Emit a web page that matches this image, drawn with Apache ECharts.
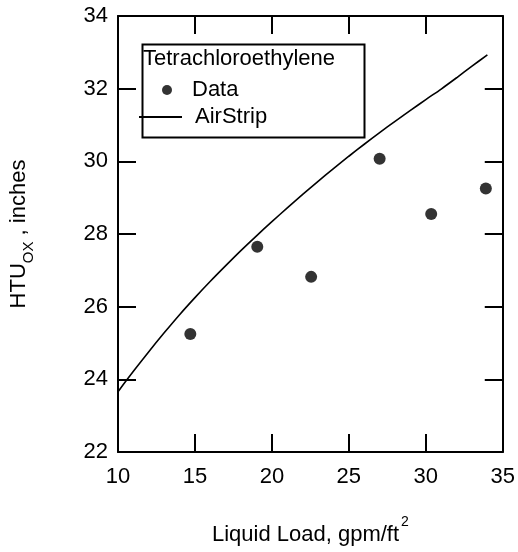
<!DOCTYPE html>
<html>
<head>
<meta charset="utf-8">
<script src="https://cdn.jsdelivr.net/npm/echarts@6/dist/echarts.min.js"></script>
<style>
html,body{margin:0;padding:0;background:#fff;}
#chart{width:518px;height:552px;}
</style>
</head>
<body>
<div id="chart"></div>
<script>
// Measured data (Liquid Load gpm/ft^2, HTU_OX inches)
var dataX = [14.7, 19.05, 22.55, 27.0, 30.35, 33.9];
var dataY = [25.25, 27.65, 26.82, 30.07, 28.55, 29.25];

// AirStrip model curve
var lineX = [10, 11, 12, 13, 14, 15, 16, 17, 18, 19, 20, 21, 22, 23, 24, 25, 26, 27, 28, 29, 30, 31, 32, 33, 34];
var lineY = [23.66, 24.22, 24.76, 25.28, 25.78, 26.25, 26.70, 27.13, 27.55, 27.95, 28.34, 28.72, 29.09, 29.45, 29.80, 30.14, 30.47, 30.79, 31.10, 31.40, 31.70, 31.99, 32.30, 32.62, 32.93];

var xTicks = {min: 10, max: 35, interval: 5};
var yTicks = {min: 22, max: 34, interval: 2};

var legendTitle = 'Tetrachloroethylene';
var seriesNames = ['Data', 'AirStrip'];

var FONT = '"Liberation Sans", Arial, sans-serif';
var black = '#000';

function pairs(xs, ys) { return xs.map(function (x, i) { return [x, ys[i]]; }); }

var axisLine = {show: true, onZero: false, lineStyle: {color: black, width: 2}};
var axisTick = {show: true, inside: true, length: 18, lineStyle: {color: black, width: 2}};

var chart = echarts.init(document.getElementById('chart'), null, {renderer: 'canvas'});
chart.setOption({
  backgroundColor: '#fff',
  animation: false,
  grid: {left: 118, right: 14, top: 16, bottom: 100, containLabel: false},
  xAxis: [{
    type: 'value', position: 'bottom', min: xTicks.min, max: xTicks.max, interval: xTicks.interval,
    axisLine: axisLine, axisTick: axisTick, splitLine: {show: false},
    axisLabel: {color: black, fontSize: 22, fontFamily: FONT, margin: 14},
    name: '{a|Liquid Load, gpm/ft}{s|2}', nameLocation: 'middle', nameGap: 63,
    nameTextStyle: {
      color: black, fontFamily: FONT,
      rich: {
        a: {fontSize: 22, fontFamily: FONT, color: black, verticalAlign: 'bottom', padding: [9, 0, 0, 0]},
        s: {fontSize: 14, fontFamily: FONT, color: black, verticalAlign: 'top', padding: [0, 0, 0, 2]}
      }
    }
  }, {
    type: 'value', position: 'top', min: xTicks.min, max: xTicks.max, interval: xTicks.interval,
    axisLine: axisLine, axisTick: axisTick, splitLine: {show: false}, axisLabel: {show: false}
  }],
  yAxis: [{
    type: 'value', position: 'left', min: yTicks.min, max: yTicks.max, interval: yTicks.interval,
    axisLine: axisLine, axisTick: axisTick, splitLine: {show: false},
    axisLabel: {color: black, fontSize: 22, fontFamily: FONT, margin: 10},
    name: '{a|HTU}{b|OX}{a| , inches}', nameLocation: 'middle', nameGap: 82, nameRotate: 90,
    nameTextStyle: {
      color: black, fontFamily: FONT,
      rich: {
        a: {fontSize: 22, fontFamily: FONT, color: black, verticalAlign: 'top', padding: [0, 0, 6, 0]},
        b: {fontSize: 15, fontFamily: FONT, color: black, verticalAlign: 'bottom'}
      }
    }
  }, {
    type: 'value', position: 'right', min: yTicks.min, max: yTicks.max, interval: yTicks.interval,
    axisLine: axisLine, axisTick: axisTick, splitLine: {show: false}, axisLabel: {show: false}
  }],
  legend: [{
    data: [{name: seriesNames[0], icon: 'circle'}],
    left: 162, top: 79, padding: 0, itemWidth: 10, itemHeight: 10,
    textStyle: {color: black, fontSize: 22, fontFamily: FONT, padding: [0, 0, 0, 15]}
  }, {
    data: [{name: seriesNames[1], icon: 'rect'}],
    left: 139, top: 106, padding: 0, itemWidth: 43, itemHeight: 2,
    textStyle: {color: black, fontSize: 22, fontFamily: FONT, padding: [0, 0, 0, 8]}
  }],
  graphic: [{
    type: 'rect', left: 140, top: 42, z: 50,
    shape: {width: 222, height: 93},
    style: {fill: 'none', stroke: black, lineWidth: 2}
  }, {
    type: 'text', left: 143, top: 48, z: 50,
    style: {text: legendTitle, fontSize: 22, fontFamily: FONT, fill: black}
  }],
  series: [{
    name: seriesNames[0], type: 'scatter', xAxisIndex: 0, yAxisIndex: 0,
    data: pairs(dataX, dataY), symbol: 'circle', symbolSize: 12,
    itemStyle: {color: black}
  }, {
    name: seriesNames[1], type: 'line', xAxisIndex: 0, yAxisIndex: 0,
    data: pairs(lineX, lineY), symbol: 'none', smooth: 0.3,
    lineStyle: {color: black, width: 1.6}, itemStyle: {color: black}
  }]
});
</script>
</body>
</html>
